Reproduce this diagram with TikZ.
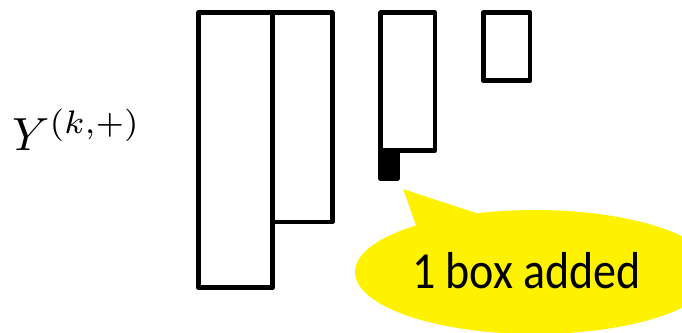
\documentclass[tikz,border=0pt]{standalone}
\usepackage{fontspec}
\newfontfamily\calib{Carlito}
\usetikzlibrary{shapes.geometric}
\tikzset{
  boxline/.style={draw=black, line width=4.5pt, line join=round, fill=white},
  newbox/.style={draw=black, line width=4.5pt, line join=round, fill=black},
  callout/.style={fill=yellow, draw=none}
}
\begin{document}
\begin{tikzpicture}[x=1pt,y=-1pt]
  \useasboundingbox (0,0) rectangle (682,332);
  \clip (0,0) rectangle (682,332);
  % label
  \node[anchor=base west, inner sep=0pt] (lbl) at (12,150) {\scalebox{4.65}{$Y^{(k,+)}$}};
  % columns
  \draw[boxline] (198.3,12.7) rectangle (272.7,287.7);
  \draw[boxline] (272.7,12.7) rectangle (332.3,222);
  \draw[boxline] (380.6,12.7) rectangle (435,150.3);
  \draw[newbox] (380.6,150.3) rectangle (397.6,178.5);
  \draw[boxline] (483.3,12.7) rectangle (530,80.7);
  % callout
  \fill[callout] (535,272) ellipse [x radius=180pt, y radius=62pt];
  \fill[callout] (403,189) -- (418,231) -- (482,215) -- cycle;
  \node[inner sep=0pt, anchor=base, font=\calib\fontsize{46}{52}\selectfont] (msg) at (526.5,288) {\scalebox{1}[1.13]{1 box added}};
\end{tikzpicture}
\end{document}
